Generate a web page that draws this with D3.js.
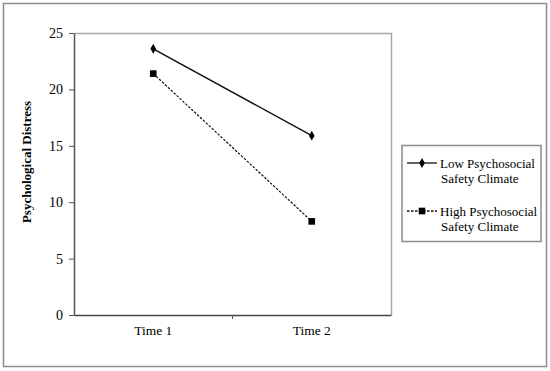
<!DOCTYPE html>
<html>
<head>
<meta charset="utf-8">
<script src="https://cdn.jsdelivr.net/npm/d3@7"></script>
<style>
    body { margin: 0; background: #fff; }
</style>
</head>
<body>
<div id="chart"></div>
<script>
// Chart data
const times = ["Time 1", "Time 2"];
const lowPSC = [23.6, 15.9];
const highPSC = [21.4, 8.3];
const yTicks = [0, 5, 10, 15, 20, 25];

const FONT = "'Liberation Serif', 'Times New Roman', Times, serif";
const width = 550, height = 371;
const plot = { left: 74, top: 33, right: 391, bottom: 315 };

const svg = d3.select("#chart")
    .append("svg")
    .attr("width", width)
    .attr("height", height)
    .attr("font-family", FONT);

// Outer frame
svg.append("rect")
    .attr("x", 3.5).attr("y", 3.5)
    .attr("width", 543).attr("height", 363)
    .attr("fill", "none")
    .attr("stroke", "#8c8c8c")
    .attr("stroke-width", 1.5);

// Scales
const x = d3.scaleBand()
    .domain(times)
    .range([plot.left, plot.right]);

const y = d3.scaleLinear()
    .domain([0, 25])
    .range([plot.bottom, plot.top]);

// Plot area border (top and right grey)
svg.append("path")
    .attr("d", `M${plot.left},${plot.top + 0.5}H${plot.right + 0.5}V${plot.bottom}`)
    .attr("fill", "none")
    .attr("stroke", "#a6a6a6")
    .attr("stroke-width", 1.5);

// Y axis
const yAxis = svg.append("g")
    .attr("transform", `translate(${plot.left},0)`)
    .call(d3.axisLeft(y).tickValues(yTicks).tickSize(5).tickSizeOuter(0).tickPadding(6));
yAxis.attr("font-family", FONT);
yAxis.select(".domain").attr("stroke", "#555").attr("stroke-width", 1.5);
yAxis.selectAll(".tick line").attr("stroke", "#555");
yAxis.selectAll("text").attr("font-size", 14).attr("fill", "#000");

// X axis
const xAxis = svg.append("g")
    .attr("transform", `translate(0,${plot.bottom})`)
    .call(d3.axisBottom(x).tickSize(0).tickSizeOuter(0).tickPadding(10));
xAxis.attr("font-family", FONT);
xAxis.select(".domain").attr("stroke", "#444").attr("stroke-width", 1.5);
xAxis.selectAll("text").attr("font-size", 13.5).attr("fill", "#000");

// Category divider tick
svg.append("line")
    .attr("x1", x("Time 2")).attr("x2", x("Time 2"))
    .attr("y1", plot.bottom).attr("y2", plot.bottom + 4)
    .attr("stroke", "#555");

// Y axis title
svg.append("text")
    .attr("transform", `translate(31,162) rotate(-90)`)
    .attr("text-anchor", "middle")
    .attr("font-size", 13)
    .attr("font-weight", "bold")
    .text("Psychological Distress");

const cx = d => x(d) + x.bandwidth() / 2;
const line = d3.line()
    .x((d, i) => cx(times[i]))
    .y(d => y(d));

const diamond = d3.symbol().type(d3.symbolDiamond).size(28);
const square = d3.symbol().type(d3.symbolSquare).size(44);

// Low PSC series (solid, diamonds)
svg.append("path")
    .datum(lowPSC)
    .attr("d", line)
    .attr("fill", "none")
    .attr("stroke", "#111")
    .attr("stroke-width", 1.5);
svg.selectAll(".low-pt")
    .data(lowPSC)
    .enter()
    .append("path")
    .attr("class", "low-pt")
    .attr("d", diamond)
    .attr("transform", (d, i) => `translate(${cx(times[i])},${y(d)})`)
    .attr("fill", "#000");

// High PSC series (dashed, squares)
svg.append("path")
    .datum(highPSC)
    .attr("d", line)
    .attr("fill", "none")
    .attr("stroke", "#111")
    .attr("stroke-width", 1.2)
    .attr("stroke-dasharray", "2.5,1.5");
svg.selectAll(".high-pt")
    .data(highPSC)
    .enter()
    .append("path")
    .attr("class", "high-pt")
    .attr("d", square)
    .attr("transform", (d, i) => `translate(${cx(times[i])},${y(d)})`)
    .attr("fill", "#000");

// Legend
const legend = svg.append("g");
legend.append("rect")
    .attr("x", 402).attr("y", 145.5)
    .attr("width", 139).attr("height", 96)
    .attr("fill", "#fff")
    .attr("stroke", "#8c8c8c")
    .attr("stroke-width", 1.5);

const legendItems = [
    { lines: ["Low Psychosocial", "Safety Climate"], symbol: diamond, dash: null, y: 163 },
    { lines: ["High Psychosocial", "Safety Climate"], symbol: square, dash: "2.5,1.5", y: 211 }
];

legendItems.forEach(item => {
    legend.append("line")
        .attr("x1", 407).attr("x2", 437)
        .attr("y1", item.y).attr("y2", item.y)
        .attr("stroke", "#111")
        .attr("stroke-width", 1.3)
        .attr("stroke-dasharray", item.dash);
    legend.append("path")
        .attr("d", item.symbol)
        .attr("transform", `translate(422,${item.y})`)
        .attr("fill", "#000");
    const t = legend.append("text")
        .attr("x", 440)
        .attr("y", item.y + 4.5)
        .attr("font-size", 13);
    item.lines.forEach((s, i) => {
        t.append("tspan")
            .attr("x", i === 0 ? 440 : 441)
            .attr("dy", i === 0 ? 0 : 15)
            .text(s);
    });
});
</script>
</body>
</html>
